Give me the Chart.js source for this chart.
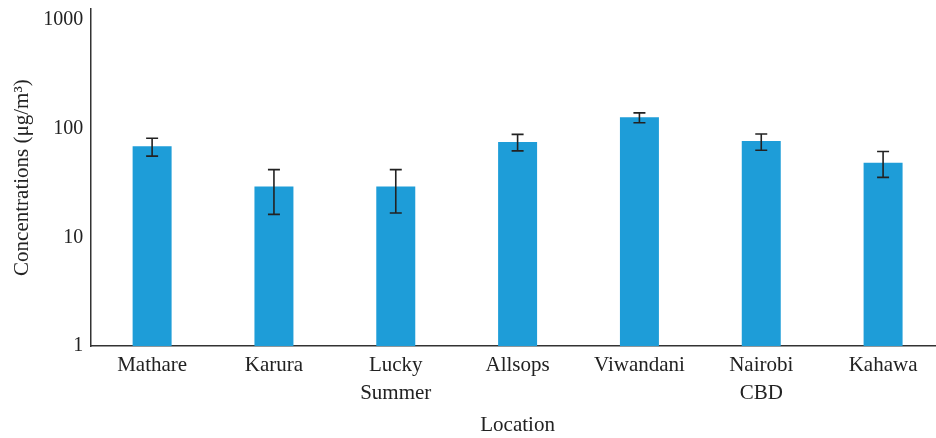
<!DOCTYPE html>
<html>
<head>
<meta charset="utf-8">
<script src="https://cdn.jsdelivr.net/npm/chart.js@4/dist/chart.umd.min.js"></script>
<style>
  html, body { margin: 0; padding: 0; background: #fff; overflow: hidden; }
  .wrap { width: 944px; height: 438px; position: relative; }
</style>
</head>
<body>
<div class="wrap"><canvas id="bar-chart"></canvas></div>
<script>
// data
var locations = [["Mathare"], ["Karura"], ["Lucky", "Summer"], ["Allsops"], ["Viwandani"], ["Nairobi", "CBD"], ["Kahawa"]];
var concentrations = [69, 29.4, 29.4, 75.5, 127.6, 77, 48.6];
var errHigh = [81.6, 42, 42, 88.7, 139.6, 89.3, 61.6];
var errLow = [55.9, 16.3, 16.8, 62.5, 113.2, 63.4, 35.7];
var yTicks = [1, 10, 100, 1000];

var serif = "'Liberation Serif', 'DejaVu Serif', serif";

// draw the error bars on top of the bars
var errorBars = {
    id: "errorBars",
    afterDatasetsDraw: function(chart) {
        var ctx = chart.ctx;
        var meta = chart.getDatasetMeta(0);
        var y = chart.scales.y;
        ctx.save();
        ctx.strokeStyle = "#222";
        ctx.lineWidth = 1.6;
        for (var i = 0; i < meta.data.length; i++) {
            var x = meta.data[i].x;
            var yHi = y.getPixelForValue(errHigh[i]);
            var yLo = y.getPixelForValue(errLow[i]);
            ctx.beginPath();
            ctx.moveTo(x, yHi); ctx.lineTo(x, yLo);
            ctx.moveTo(x - 6, yHi); ctx.lineTo(x + 6, yHi);
            ctx.moveTo(x - 6, yLo); ctx.lineTo(x + 6, yLo);
            ctx.stroke();
        }
        ctx.restore();
    }
};

var bc = document.getElementById("bar-chart").getContext('2d');
var myChart = new Chart(bc, {
    type: 'bar',
    data: {
        labels: locations,
        datasets: [{
            label: '',
            data: concentrations,
            backgroundColor: '#1e9dd8',
            borderWidth: 0,
            categoryPercentage: 1,
            barPercentage: 0.32
        }]
    },
    options: {
        responsive: true,
        maintainAspectRatio: false,
        animation: false,
        layout: { padding: { top: 0, left: 10, right: 0, bottom: 0 } },
        plugins: {
            legend: { display: false },
            tooltip: { enabled: false }
        },
        scales: {
            x: {
                grid: { display: false, drawTicks: false },
                border: { color: '#333', width: 1.5 },
                ticks: { color: '#222', font: { family: serif, size: 21, lineHeight: 1.3 }, padding: 6, maxRotation: 0 },
                title: { display: true, text: 'Location', color: '#222', font: { family: serif, size: 21 }, padding: { top: 0, bottom: 0 } }
            },
            y: {
                type: 'logarithmic',
                min: 1,
                max: 1260,
                grid: { display: false, drawTicks: false },
                border: { color: '#333', width: 1.5 },
                afterBuildTicks: function(axis) {
                    axis.ticks = yTicks.map(function(v) { return { value: v }; });
                },
                ticks: {
                    color: '#222',
                    font: { family: serif, size: 20, lineHeight: 0.1 },
                    padding: 8,
                    callback: function(v) { return String(v); }
                },
                title: { display: true, text: 'Concentrations (μg/m³)', color: '#222', font: { family: serif, size: 21 }, padding: { top: 0, bottom: 0 } }
            }
        }
    },
    plugins: [errorBars]
});
</script>
</body>
</html>
